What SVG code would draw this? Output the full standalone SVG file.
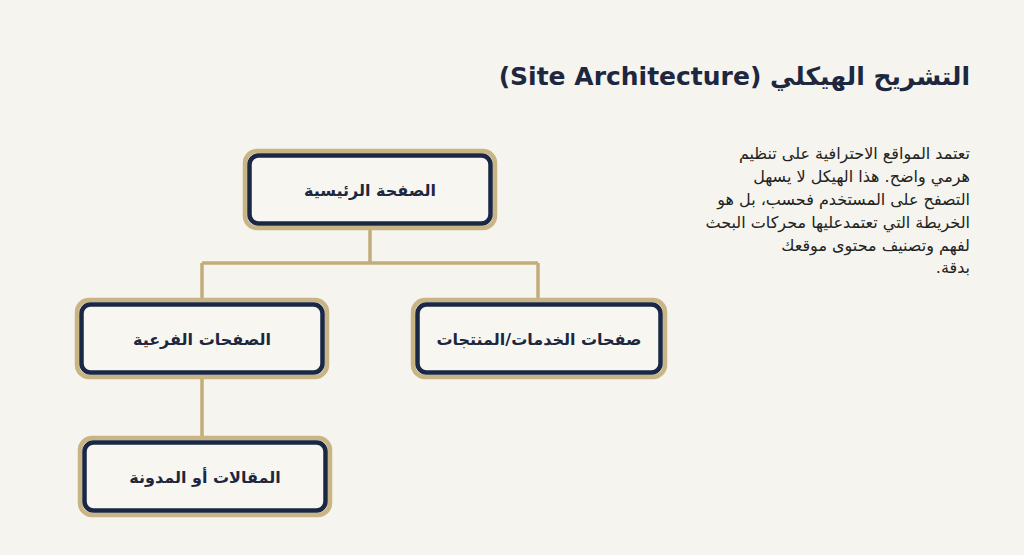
<svg xmlns="http://www.w3.org/2000/svg" width="1024" height="555" viewBox="0 0 1024 555">
<style>
.bg{fill:#f5f4ee}
.outer{fill:none;stroke:#c9b584;stroke-width:4.5}
.box{fill:#f7f6f1;stroke:#1b2845;stroke-width:4.5}
.lbl{font-family:"DejaVu Sans","Noto Sans",sans-serif;font-weight:bold;font-size:16px;fill:#1e2740;text-anchor:middle;direction:rtl}
.title{font-family:"DejaVu Sans","Noto Sans",sans-serif;font-weight:bold;font-size:25px;fill:#1e2740;direction:rtl;text-anchor:start}
.para{font-family:"DejaVu Sans","Noto Sans",sans-serif;font-size:16px;fill:#222;direction:rtl;text-anchor:start}
.conn{fill:none;stroke:#c2ad7a;stroke-width:3.5}
</style>
<rect class="bg" x="0" y="0" width="1024" height="555"/>
<text class="title" x="970" y="85">التشريح الهيكلي (Site Architecture)</text>
<g id="description">
<text class="para" x="970" y="159">تعتمد المواقع الاحترافية على تنظيم</text>
<text class="para" x="970" y="182">هرمي واضح. هذا الهيكل لا يسهل</text>
<text class="para" x="970" y="205">التصفح على المستخدم فحسب، بل هو</text>
<text class="para" x="970" y="228">الخريطة التي تعتمدعليها محركات البحث</text>
<text class="para" x="970" y="251">لفهم وتصنيف محتوى موقعك</text>
<text class="para" x="970" y="273">بدقة.</text>
</g>
<g id="connectors">
<path class="conn" d="M370 229 V263 M202 263 H538 M202 263 V300 M538 263 V300 M202 377 V438"/>
</g>
<g id="home">
<rect class="outer" x="245" y="151" width="250" height="77" rx="12"/>
<rect class="box" x="249.5" y="155.5" width="241" height="68" rx="9"/>
<text class="lbl" x="370" y="196">الصفحة الرئيسية</text>
</g>
<g id="subpages">
<rect class="outer" x="77" y="300" width="250" height="77" rx="12"/>
<rect class="box" x="81.5" y="304.5" width="241" height="68" rx="9"/>
<text class="lbl" x="202" y="345">الصفحات الفرعية</text>
</g>
<g id="services">
<rect class="outer" x="413" y="300" width="252" height="77" rx="12"/>
<rect class="box" x="417.5" y="304.5" width="243" height="68" rx="9"/>
<text class="lbl" x="539" y="345">صفحات الخدمات/المنتجات</text>
</g>
<g id="blog">
<rect class="outer" x="80" y="438" width="250" height="77" rx="12"/>
<rect class="box" x="84.5" y="442.5" width="241" height="68" rx="9"/>
<text class="lbl" x="205" y="483">المقالات أو المدونة</text>
</g>
</svg>
